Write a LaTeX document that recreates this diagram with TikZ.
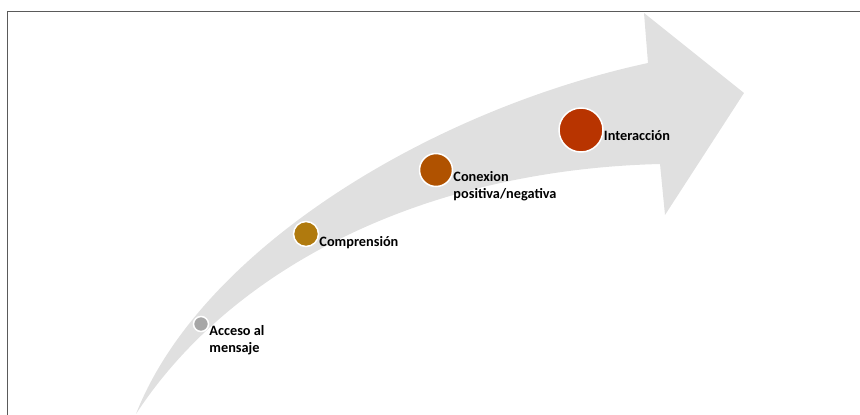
\documentclass[tikz,border=0pt]{standalone}
\usepackage{fontspec}
\setmainfont{Carlito}
\usetikzlibrary{positioning}
\definecolor{bandgray}{RGB}{224,224,224}
\definecolor{framegray}{RGB}{90,90,90}
\definecolor{accgray}{RGB}{166,166,166}
\definecolor{compgold}{RGB}{176,122,14}
\definecolor{conbrown}{RGB}{176,82,0}
\definecolor{intred}{RGB}{184,52,0}

\begin{document}
\begin{tikzpicture}[x=1pt, y=-1pt,
  dot/.style={circle, draw=white, line width=1.5pt, inner sep=0pt},
  lbl/.style={anchor=north west, inner sep=0pt, align=left, font=\fontsize{14.3}{17}\selectfont\bfseries}]
\useasboundingbox (0,0) rectangle (860,415);
% arrow band
\fill[bandgray] (136,414) .. controls (200,250) and (430,110) .. (648,63) -- (644,13)
  -- (744,93) -- (665,215) -- (660,164) .. controls (420,170) and (230,270) .. (136,414) -- cycle;
% frame
\draw[framegray, line width=1.5pt] (7.5,415) -- (7.5,11.5) -- (860,11.5);
% stages
\node[dot, fill=accgray, minimum size=15pt] (acceso) at (201,324) {};
\node[lbl] (accesotxt) at ([yshift=-1pt]acceso.east) {Acceso al\\mensaje};
\node[dot, fill=compgold, minimum size=25pt] (comp) at (306,234) {};
\node[lbl] (comptxt) at ([yshift=-2pt]comp.east) {Comprensión};
\node[dot, fill=conbrown, minimum size=33pt] (conexion) at (436,170) {};
\node[lbl] (conexiontxt) at ([yshift=-1pt]conexion.east) {Conexion\\positiva/negativa};
\node[dot, fill=intred, minimum size=44pt] (inter) at (581,130) {};
\node[lbl] (intertxt) at ([yshift=0pt]inter.east) {Interacción};
\end{tikzpicture}
\end{document}
